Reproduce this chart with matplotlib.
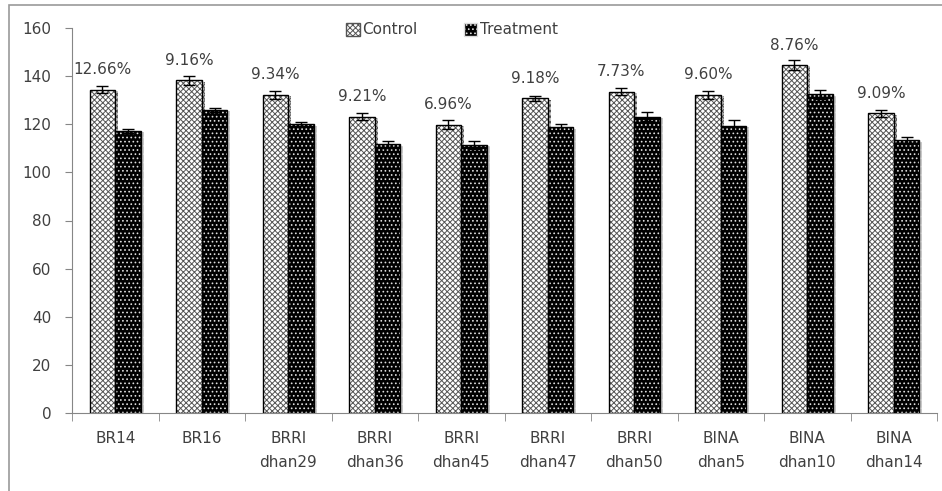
import matplotlib

matplotlib.use("Agg")
import matplotlib.pyplot as plt
import matplotlib.patheffects as pe
import numpy as np
from matplotlib.patches import Rectangle, Patch

varieties = ["BR14", "BR16", "BRRI\ndhan29", "BRRI\ndhan36", "BRRI\ndhan45",
             "BRRI\ndhan47", "BRRI\ndhan50", "BINA\ndhan5", "BINA\ndhan10", "BINA\ndhan14"]
control = [134.3, 138.2, 132.2, 123.2, 119.8, 130.8, 133.6, 132.2, 144.6, 124.6]
treatment = [117.2, 126.0, 120.0, 111.6, 111.4, 118.8, 123.2, 119.4, 132.4, 113.3]
control_err = [1.5, 2.0, 1.6, 1.5, 1.8, 1.0, 1.4, 1.6, 2.0, 1.5]
treatment_err = [0.8, 0.9, 0.8, 1.4, 1.6, 1.4, 1.8, 2.2, 1.8, 1.4]
reduction = ["12.66%", "9.16%", "9.34%", "9.21%", "6.96%",
             "9.18%", "7.73%", "9.60%", "8.76%", "9.09%"]

TEXT = "#404040"
AXIS = "#868686"

plt.rcParams["font.family"] = ["DejaVu Sans"]
plt.rcParams["font.size"] = 10
plt.rcParams["hatch.linewidth"] = 0.7

fig = plt.figure(figsize=(9.42, 4.91), dpi=100)
fig.patches.append(Rectangle((9 / 942, -0.1), 1.2, 1.1 - 5 / 491,
                             transform=fig.transFigure, fill=False,
                             edgecolor="#9a9a9a", linewidth=1.2))
ax = fig.add_axes([72 / 942, 1 - 413 / 491, 865 / 942, 385 / 491])

x = np.arange(len(varieties))
w = 0.295
shadow = [pe.SimplePatchShadow(offset=(2, -1), shadow_rgbFace="#bbbbbb", alpha=0.8),
          pe.Normal()]

# control: light crosshatch
ax.bar(x - w / 2, control, w, color="white", edgecolor="#555555", hatch="xxxxxx",
       linewidth=0, path_effects=shadow, zorder=2)
ax.bar(x - w / 2, control, w, fill=False, edgecolor="black", linewidth=1.0, zorder=3)
# treatment: black with white dots
ax.bar(x + w / 2, treatment, w, color="black", edgecolor="#dddddd", hatch="....",
       linewidth=0, path_effects=shadow, zorder=2)
ax.bar(x + w / 2, treatment, w, fill=False, edgecolor="black", linewidth=1.0, zorder=3)

ax.errorbar(x - w / 2, control, yerr=control_err, fmt="none", ecolor="black",
            elinewidth=1, capsize=4, capthick=1, zorder=4)
ax.errorbar(x + w / 2, treatment, yerr=treatment_err, fmt="none", ecolor="black",
            elinewidth=1, capsize=4, capthick=1, zorder=4)

for xi, val, lab in zip(x, control, reduction):
    ax.text(xi - w / 2, val + 8.3, lab, ha="center", va="center",
            color=TEXT, fontsize=11)

ax.set_xlim(-0.5, len(varieties) - 0.5)
ax.set_ylim(0, 160)
ax.set_yticks(range(0, 161, 20))
ax.set_xticks(x)
ax.set_xticklabels(varieties, color=TEXT, fontsize=11, linespacing=1.75)
ax.set_xticks(np.arange(-0.5, len(varieties)), minor=True)
ax.tick_params(axis="x", which="major", length=0, pad=13)
ax.tick_params(axis="x", which="minor", length=6, color=AXIS, direction="out")
ax.tick_params(axis="y", length=5, color=AXIS, labelcolor=TEXT, labelsize=11, pad=10)

for side in ["top", "right"]:
    ax.spines[side].set_visible(False)
for side in ["left", "bottom"]:
    ax.spines[side].set_color(AXIS)

handles = [Patch(facecolor="white", edgecolor="#555555", hatch="xxxxxx", label="Control"),
           Patch(facecolor="black", edgecolor="#dddddd", hatch="....", label="Treatment")]
fig.legend(handles=handles, loc="center", bbox_to_anchor=(452 / 942, 1 - 30 / 491),
           ncol=2, frameon=False, handlelength=0.9, handleheight=0.9,
           handletextpad=0.15, columnspacing=3.0, fontsize=11, labelcolor=TEXT)

fig.savefig("out.png", dpi=100)
